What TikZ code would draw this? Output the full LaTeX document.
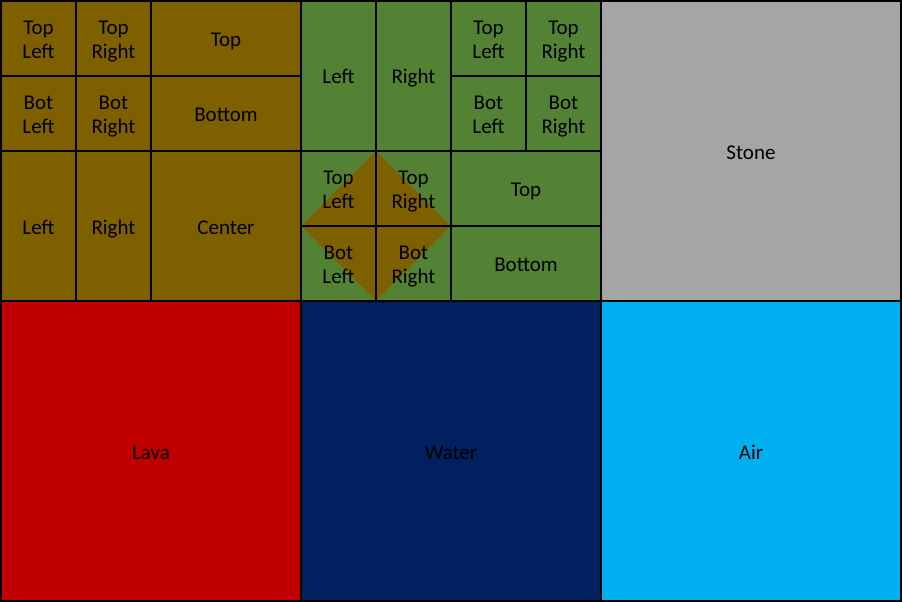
\documentclass[tikz,border=0pt]{standalone}
\usepackage{fontspec}
\setmainfont{Carlito}
\usepackage{tikz}
\usetikzlibrary{positioning,shapes.geometric,fit,backgrounds}
\usepackage{xcolor}

\definecolor{mud}{HTML}{7F6000}
\definecolor{leaf}{HTML}{548235}
\definecolor{stonegray}{HTML}{A5A5A5}
\definecolor{lavared}{HTML}{C00000}
\definecolor{waterblue}{HTML}{002060}
\definecolor{airblue}{HTML}{00B0F0}

\newcommand{\cellstrut}{\rule[-4pt]{0pt}{24pt}}
\newcommand{\pairstrut}{\rule[-4pt]{0pt}{48.5pt}}

\begin{document}
\begin{tikzpicture}[
      x=1pt, y=-1pt,
      node distance=0pt,
      cell/.style={draw=black, line width=2pt, inner sep=0pt, outer sep=0pt,
                   align=center, font=\fontsize{21}{24.5}\selectfont,
                   execute at begin node=\cellstrut},
      sq/.style={cell, minimum width=75pt, minimum height=75pt},
      pair/.style={sq, execute at begin node=\pairstrut},
      tall/.style={cell, minimum width=75pt, minimum height=150pt},
      wide/.style={cell, minimum width=150pt, minimum height=75pt},
      big/.style={cell, minimum width=150pt, minimum height=150pt},
      tile/.style={cell, minimum width=300pt, minimum height=300pt},
    ]
    \useasboundingbox (-1,-1) rectangle (901,601);

    % ---- Dirt tile ----
    \node[pair, fill=mud, anchor=north west] (bTL) at (0,0) {Top\\Left};
    \node[pair, fill=mud, right=of bTL] (bTR) {Top\\Right};
    \node[wide, fill=mud, right=of bTR] (bT) {Top};
    \node[pair, fill=mud, below=of bTL] (bBL) {Bot\\Left};
    \node[pair, fill=mud, below=of bTR] (bBR) {Bot\\Right};
    \node[wide, fill=mud, below=of bT] (bB) {Bottom};
    \node[tall, fill=mud, below=of bBL] (bL) {Left};
    \node[tall, fill=mud, below=of bBR] (bR) {Right};
    \node[big, fill=mud, below=of bB] (bC) {Center};

    % ---- Grass tile ----
    \node[tall, fill=leaf, anchor=north west] (gL) at (bT.north east) {Left};
    \node[tall, fill=leaf, right=of gL] (gR) {Right};
    \node[pair, fill=leaf, anchor=north west] (gTL) at (gR.north east) {Top\\Left};
    \node[pair, fill=leaf, right=of gTL] (gTR) {Top\\Right};
    \node[pair, fill=leaf, below=of gTL] (gBL) {Bot\\Left};
    \node[pair, fill=leaf, below=of gTR] (gBR) {Bot\\Right};
    \node[wide, fill=leaf, anchor=north west] (gT) at (gBL.south west) {Top};
    \node[wide, fill=leaf, below=of gT] (gB) {Bottom};

    % corner cells round the diamond
    \node[pair, below=of gL] (dTL) {Top\\Left};
    \node[pair, below=of gR] (dTR) {Top\\Right};
    \node[pair, below=of dTL] (dBL) {Bot\\Left};
    \node[pair, below=of dTR] (dBR) {Bot\\Right};

    \begin{scope}[on background layer]
      \node[fit=(dTL)(dBR), inner sep=0pt, fill=leaf] (dsq) {};
      \node[diamond, fill=mud, inner sep=0pt, minimum width=150pt,
            minimum height=150pt] (dia) at (dsq.center) {};
    \end{scope}

    % ---- plain tiles ----
    \node[tile, fill=stonegray, anchor=north west] (stone) at (gTR.north east) {Stone};
    \node[tile, fill=lavared, anchor=north west] (lava) at (bL.south west) {Lava};
    \node[tile, fill=waterblue, right=of lava] (water) {Water};
    \node[tile, fill=airblue, right=of water] (air) {Air};
  \end{tikzpicture}
\end{document}
